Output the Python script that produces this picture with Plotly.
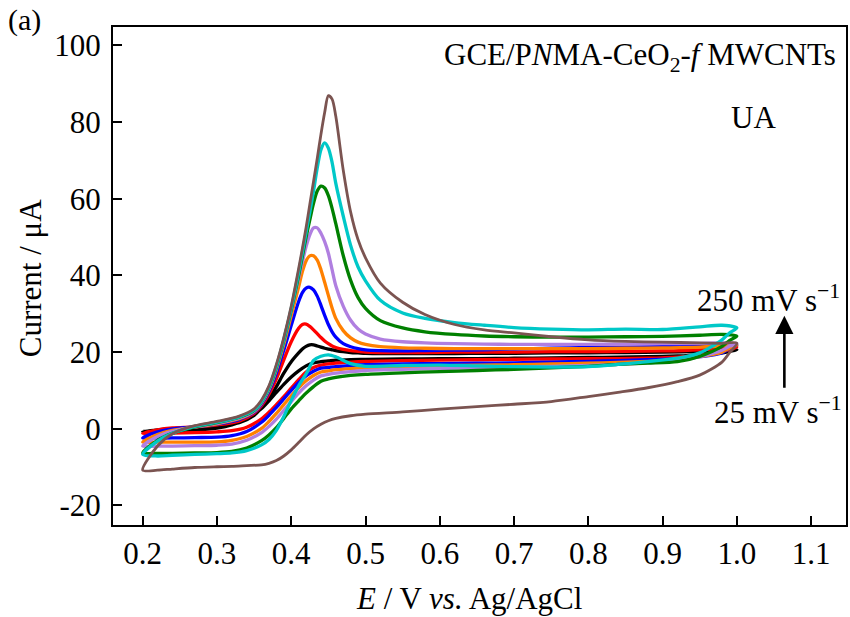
import plotly.graph_objects as go

# ---------------- data ----------------
scan_labels = ["25", "50", "75", "100", "125", "150", "200", "250"]
colors = ["#000000", "#ff0000", "#0000ff", "#ff8000", "#b07fe0", "#008000", "#00c8c8", "#7b5451"]

# forward (anodic) branch potentials, V
E_fwd = [0.20, 0.22, 0.24, 0.27, 0.30, 0.33, 0.35, 0.36, 0.37, 0.38, 0.39, 0.40, 0.41, 0.415,
         0.42, 0.425, 0.43, 0.435, 0.44, 0.445, 0.45, 0.455, 0.46, 0.47, 0.48, 0.49, 0.50,
         0.52, 0.55, 0.58, 0.62, 0.66, 0.70, 0.75, 0.80, 0.85, 0.90, 0.95, 0.98, 1.00]
# reverse branch potentials, V
E_rev = [0.99, 0.98, 0.95, 0.92, 0.88, 0.84, 0.80, 0.75, 0.70, 0.65, 0.60, 0.55, 0.50, 0.48,
         0.46, 0.45, 0.44, 0.43, 0.42, 0.41, 0.40, 0.39, 0.38, 0.37, 0.36, 0.34, 0.32, 0.30,
         0.27, 0.24, 0.22, 0.20]

black_fwd = [-0.7, -0.3, 0.0, 0.3, 0.7, 1.6, 3.5, 5.5, 8.0, 11.0, 14.5, 17.5, 19.8, 20.8, 21.5, 21.9,
             21.9, 21.6, 21.3, 21.0, 20.8, 20.6, 20.4, 20.1, 19.9, 19.8, 19.7, 19.6, 19.6, 19.6, 19.6,
             19.7, 19.7, 19.8, 19.8, 19.9, 20.0, 20.2, 20.4, 20.6]
red_fwd = [-1.2, -0.3, 0.2, 0.5, 1.0, 2.0, 4.0, 6.0, 9.0, 13.0, 18.0, 22.7, 26.2, 27.2, 27.3, 26.7,
           25.8, 24.8, 23.8, 22.9, 22.2, 21.6, 21.2, 20.7, 20.4, 20.2, 20.0, 19.9, 19.9, 19.9, 20.0,
           20.0, 20.0, 20.1, 20.1, 20.2, 20.3, 20.6, 21.0, 21.3]
blue_fwd = [-2.4, -0.8, 0.0, 0.5, 1.2, 2.4, 4.3, 6.4, 9.7, 14.5, 20.5, 27.0, 33.2, 35.5, 36.7, 36.9,
            36.2, 34.6, 32.2, 29.6, 27.2, 25.3, 23.9, 22.2, 21.4, 20.9, 20.6, 20.4, 20.3, 20.4, 20.5,
            20.6, 20.8, 21.0, 21.2, 21.3, 21.4, 21.6, 21.8, 21.8]
orange_fwd = [-3.5, -1.5, -0.4, 0.5, 1.3, 2.6, 4.5, 6.7, 10.2, 15.4, 22.0, 29.5, 37.0, 41.0, 43.8, 45.1,
              45.1, 44.0, 41.5, 38.2, 34.8, 31.5, 28.8, 25.6, 23.7, 22.6, 22.0, 21.4, 21.1, 21.0, 20.9,
              20.9, 20.9, 20.9, 20.9, 21.0, 21.1, 21.3, 21.6, 21.8]
purple_fwd = [-4.5, -2.0, -0.7, 0.5, 1.4, 2.8, 4.6, 6.8, 10.4, 15.8, 22.8, 30.8, 39.2, 43.5, 47.5, 50.6,
              52.4, 52.4, 51.0, 48.8, 45.8, 41.5, 37.3, 32.0, 28.3, 26.0, 24.7, 23.4, 22.7, 22.4, 22.2,
              22.1, 22.0, 22.0, 22.0, 22.1, 22.2, 22.3, 22.4, 22.3]
green_fwd = [-6.3, -3.0, -1.2, 0.5, 1.6, 3.0, 4.8, 7.0, 10.6, 16.0, 23.0, 31.0, 40.0, 45.0, 50.0, 54.5,
             58.8, 62.0, 63.3, 62.8, 60.8, 57.5, 53.5, 45.2, 38.7, 34.2, 31.4, 28.2, 26.3, 25.3, 24.6,
             24.2, 24.0, 23.9, 23.9, 24.0, 24.1, 24.4, 24.6, 24.2]
cyan_fwd = [-6.7, -3.2, -1.2, 0.6, 1.7, 3.1, 4.9, 7.1, 10.8, 16.3, 23.3, 31.4, 40.8, 46.0, 51.2, 56.5,
            62.0, 68.0, 72.8, 74.6, 73.2, 69.5, 64.0, 55.5, 47.8, 42.2, 38.6, 33.5, 30.2, 28.8, 27.7,
            27.0, 26.4, 26.0, 25.8, 26.0, 25.9, 26.6, 27.0, 26.3]
brown_fwd = [-10.8, -4.5, -1.3, 0.8, 1.9, 3.3, 5.2, 7.5, 11.2, 16.8, 23.8, 32.0, 41.8, 47.0, 52.5, 58.5,
             64.5, 70.5, 76.8, 82.5, 86.9, 86.0, 81.5, 67.5, 56.5, 49.3, 44.6, 38.0, 33.0, 29.8, 27.2,
             25.8, 25.0, 24.0, 23.2, 22.8, 22.6, 22.4, 22.3, 22.3]

black_rev = [20.2, 19.8, 19.3, 19.0, 18.8, 18.7, 18.6, 18.5, 18.4, 18.3, 18.3, 18.2, 18.1, 18.0, 17.9,
             17.7, 17.5, 17.2, 16.4, 15.1, 13.5, 11.6, 9.5, 7.3, 5.3, 2.6, 1.0, 0.2, -0.3, -0.5, -0.6, -0.7]
red_rev = [20.6, 20.2, 19.2, 18.7, 18.4, 18.3, 18.3, 18.2, 18.1, 18.0, 17.9, 17.8, 17.6, 17.4, 17.1,
           16.9, 16.6, 16.0, 14.8, 12.8, 10.6, 8.4, 6.3, 4.3, 2.6, 0.4, -0.5, -0.8, -1.0, -1.1, -1.2, -1.2]
blue_rev = [21.0, 19.8, 18.8, 18.3, 18.0, 17.8, 17.6, 17.4, 17.2, 17.1, 17.0, 16.9, 16.7, 16.5, 16.2,
            16.0, 15.8, 15.0, 13.8, 12.1, 10.0, 7.8, 5.6, 3.5, 1.7, -0.7, -1.8, -2.2, -2.3, -2.4, -2.4, -2.4]
orange_rev = [21.0, 20.0, 18.8, 18.0, 17.6, 17.3, 17.1, 16.9, 16.7, 16.6, 16.4, 16.2, 15.9, 15.7, 15.4,
              15.1, 14.8, 13.9, 12.5, 10.7, 8.6, 6.3, 4.0, 1.9, 0.1, -2.0, -3.0, -3.4, -3.5, -3.5, -3.5, -3.5]
purple_rev = [21.5, 20.5, 18.8, 17.8, 17.2, 16.8, 16.5, 16.3, 16.1, 15.9, 15.7, 15.5, 15.2, 14.9, 14.5,
              14.2, 13.8, 12.7, 11.2, 9.3, 7.1, 4.8, 2.5, 0.6, -1.0, -3.0, -4.0, -4.3, -4.4, -4.5, -4.5, -4.5]
green_rev = [23.0, 21.5, 18.9, 17.5, 17.1, 16.8, 16.3, 15.9, 15.5, 15.2, 14.9, 14.6, 14.2, 13.9, 13.4,
             13.0, 12.4, 11.0, 9.3, 7.3, 5.2, 2.7, 0.3, -1.6, -3.1, -5.0, -5.9, -6.2, -6.3, -6.4, -6.4, -6.3]
cyan_rev = [25.0, 23.2, 19.8, 18.4, 17.5, 16.8, 16.2, 16.1, 16.2, 16.4, 16.6, 16.5, 16.3, 17.0, 18.8,
            19.3, 18.9, 17.8, 14.3, 11.2, 7.4, 3.2, -0.4, -2.8, -4.2, -5.7, -6.3, -6.5, -6.7, -6.9, -7.1, -6.7]
brown_rev = [19.8, 17.4, 14.0, 12.3, 10.7, 9.5, 8.4, 7.1, 6.4, 5.8, 5.1, 4.4, 3.8, 3.4, 2.7, 2.1, 1.2,
             0.0, -1.6, -3.6, -5.5, -7.1, -8.3, -9.0, -9.4, -9.6, -9.8, -9.9, -10.1, -10.5, -10.8, -10.8]

fwd_sets = [black_fwd, red_fwd, blue_fwd, orange_fwd, purple_fwd, green_fwd, cyan_fwd, brown_fwd]
rev_sets = [black_rev, red_rev, blue_rev, orange_rev, purple_rev, green_rev, cyan_rev, brown_rev]

x_ticks = [0.2, 0.3, 0.4, 0.5, 0.6, 0.7, 0.8, 0.9, 1.0, 1.1]
x_ticktext = ["0.2", "0.3", "0.4", "0.5", "0.6", "0.7", "0.8", "0.9", "1.0", "1.1"]
y_ticks = [-20, 0, 20, 40, 60, 80, 100]
y_ticktext = ["-20", "0", "20", "40", "60", "80", "100"]

# ---------------- figure ----------------
W, H = 850, 617
ML, MR, MT, MB = 113, 2, 27, 92
FONT = "Liberation Serif"
FS = 31

def px_x(p):
    return (p - ML) / (W - ML - MR)

def px_y(p):
    return (H - MB - p) / (H - MT - MB)

fig = go.Figure()
for lab, col, fw, rv in zip(scan_labels, colors, fwd_sets, rev_sets):
    lw = 2.8 if col == "#7b5451" else 3.3
    fig.add_trace(go.Scatter(
        x=E_fwd + E_rev, y=fw + rv, mode="lines", name=lab + " mV/s",
        line=dict(color=col, width=lw, shape="spline", smoothing=0.8),
        showlegend=False, hoverinfo="skip"))

axis_common = dict(showline=True, linecolor="black", linewidth=2, mirror=True,
                   ticks="inside", ticklen=9, tickwidth=1.5, tickcolor="black",
                   showgrid=False, zeroline=False,
                   tickfont=dict(family=FONT, size=FS, color="black"))

fig.update_layout(
    width=W, height=H,
    margin=dict(l=ML, r=MR, t=MT, b=MB),
    paper_bgcolor="white", plot_bgcolor="white",
    font=dict(family=FONT, color="black"),
    xaxis=dict(range=[0.16, 1.147], tickvals=x_ticks, ticktext=x_ticktext, **axis_common),
    yaxis=dict(range=[-25.1, 104.8], tickvals=y_ticks, ticktext=y_ticktext,
               ticklabelstandoff=4, **axis_common),
)

ann_font = dict(family=FONT, size=FS, color="black")
anns = [
    dict(x=px_x(470), y=px_y(598), text="<i>E</i> / V <i>vs.</i> Ag/AgCl",
         xanchor="center", yanchor="middle"),
    dict(x=px_x(30), y=px_y(278), text="Current / μA", textangle=-90,
         xanchor="center", yanchor="middle"),
    dict(x=px_x(24), y=px_y(20), text="(a)", xanchor="center", yanchor="middle",
         font=dict(family=FONT, size=30, color="black")),
    dict(x=px_x(443), y=px_y(57), text="GCE/P<i>N</i>MA-CeO<sub>2</sub>-<i>f</i> MWCNTs",
         xanchor="left", yanchor="middle"),
    dict(x=px_x(755), y=px_y(117), text="UA", xanchor="center", yanchor="middle"),
    dict(x=px_x(770), y=px_y(298), text="250 mV s<sup>−1</sup>", xanchor="center", yanchor="middle"),
    dict(x=px_x(780), y=px_y(410), text="25 mV s<sup>−1</sup>", xanchor="center", yanchor="middle"),
]
for a in anns:
    a.setdefault("font", ann_font)
    fig.add_annotation(xref="paper", yref="paper", showarrow=False, **a)

# arrow (25 -> 250 mV/s)
fig.add_annotation(x=1.064, y=29.5, ax=1.064, ay=10.3, xref="x", yref="y", axref="x", ayref="y",
                   text="", showarrow=True, arrowhead=2, arrowsize=1.4, arrowwidth=2.6,
                   arrowcolor="black")

fig.write_html("out.html")
